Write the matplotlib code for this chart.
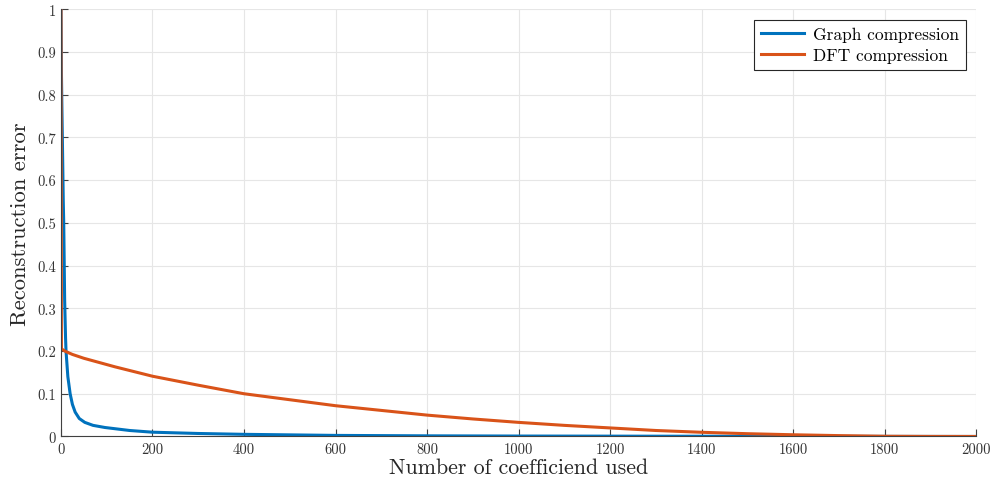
import matplotlib
matplotlib.use("Agg")
import matplotlib.pyplot as plt
import numpy as np

# values
graph_x = [0, 1, 2, 3, 5, 6, 8, 10, 11, 15, 20, 25, 31, 40, 52, 70, 96,
           150, 200, 300, 400, 600, 800, 1000, 1500, 2000]
graph_err = [1.0, 0.85, 0.77, 0.7, 0.55, 0.5, 0.32, 0.23, 0.2, 0.14, 0.1,
             0.075, 0.057, 0.042, 0.033, 0.026, 0.021, 0.014, 0.01, 0.007,
             0.005, 0.0025, 0.0015, 0.001, 0.0004, 0.0]

dft_x = [0, 1, 10, 25, 50, 118, 200, 300, 400, 500, 600, 700, 800, 900,
         1000, 1100, 1200, 1300, 1400, 1500, 1600, 1700, 1800, 1900, 2000]
dft_err = [1.0, 0.205, 0.199, 0.192, 0.183, 0.163, 0.141, 0.12, 0.1, 0.086,
           0.072, 0.061, 0.05, 0.041, 0.033, 0.026, 0.02, 0.014, 0.0098,
           0.0065, 0.004, 0.002, 0.0005, 0.0001, 0.0]

x_ticks = [0, 200, 400, 600, 800, 1000, 1200, 1400, 1600, 1800, 2000]
y_ticks = [0, 0.1, 0.2, 0.3, 0.4, 0.5, 0.6, 0.7, 0.8, 0.9, 1]
y_tick_labels = ["0", "0.1", "0.2", "0.3", "0.4", "0.5", "0.6", "0.7",
                 "0.8", "0.9", "1"]

plt.rcParams["font.family"] = ["cmr10", "DejaVu Serif"]
plt.rcParams["axes.formatter.use_mathtext"] = True
plt.rcParams["mathtext.fontset"] = "cm"

BLUE = "#0072BD"
ORANGE = "#D95319"
AXC = "#404040"


def main():
    fig = plt.figure(figsize=(9.9, 4.85), dpi=100)
    ax = fig.add_axes([0.0616, 0.098, 0.9243, 0.881])

    ax.plot(graph_x, graph_err, color=BLUE, lw=2.2, label="Graph compression")
    ax.plot(dft_x, dft_err, color=ORANGE, lw=2.2, label="DFT compression")

    ax.set_xlim(0, 2000)
    ax.set_ylim(0, 1)
    ax.set_xticks(x_ticks)
    ax.set_xticklabels([str(t) for t in x_ticks])
    ax.set_yticks(y_ticks)
    ax.set_yticklabels(y_tick_labels)

    ax.grid(True, color="#e6e6e6", lw=0.8)
    ax.set_axisbelow(True)
    for s in ["top", "right"]:
        ax.spines[s].set_visible(False)
    for s in ["left", "bottom"]:
        ax.spines[s].set_color(AXC)
        ax.spines[s].set_linewidth(0.8)
    ax.tick_params(direction="in", length=5, width=0.8, colors=AXC,
                   labelsize=10.5, labelcolor="#333333")
    ax.tick_params(axis="x", pad=4)

    ax.set_xlabel("Number of coefficiend used", fontsize=15.8, color="#262626",
                  labelpad=1)
    ax.set_ylabel("Reconstruction error", fontsize=16.3, color="#262626",
                  labelpad=5)

    leg = ax.legend(loc="upper right", fontsize=12.5, fancybox=False,
                    framealpha=1, edgecolor="#262626", handlelength=2.5,
                    borderaxespad=0.6, labelspacing=0.35, borderpad=0.4,
                    handletextpad=0.5)
    leg.get_frame().set_linewidth(0.8)

    fig.savefig("out.png", dpi=100)


if __name__ == "__main__":
    main()
